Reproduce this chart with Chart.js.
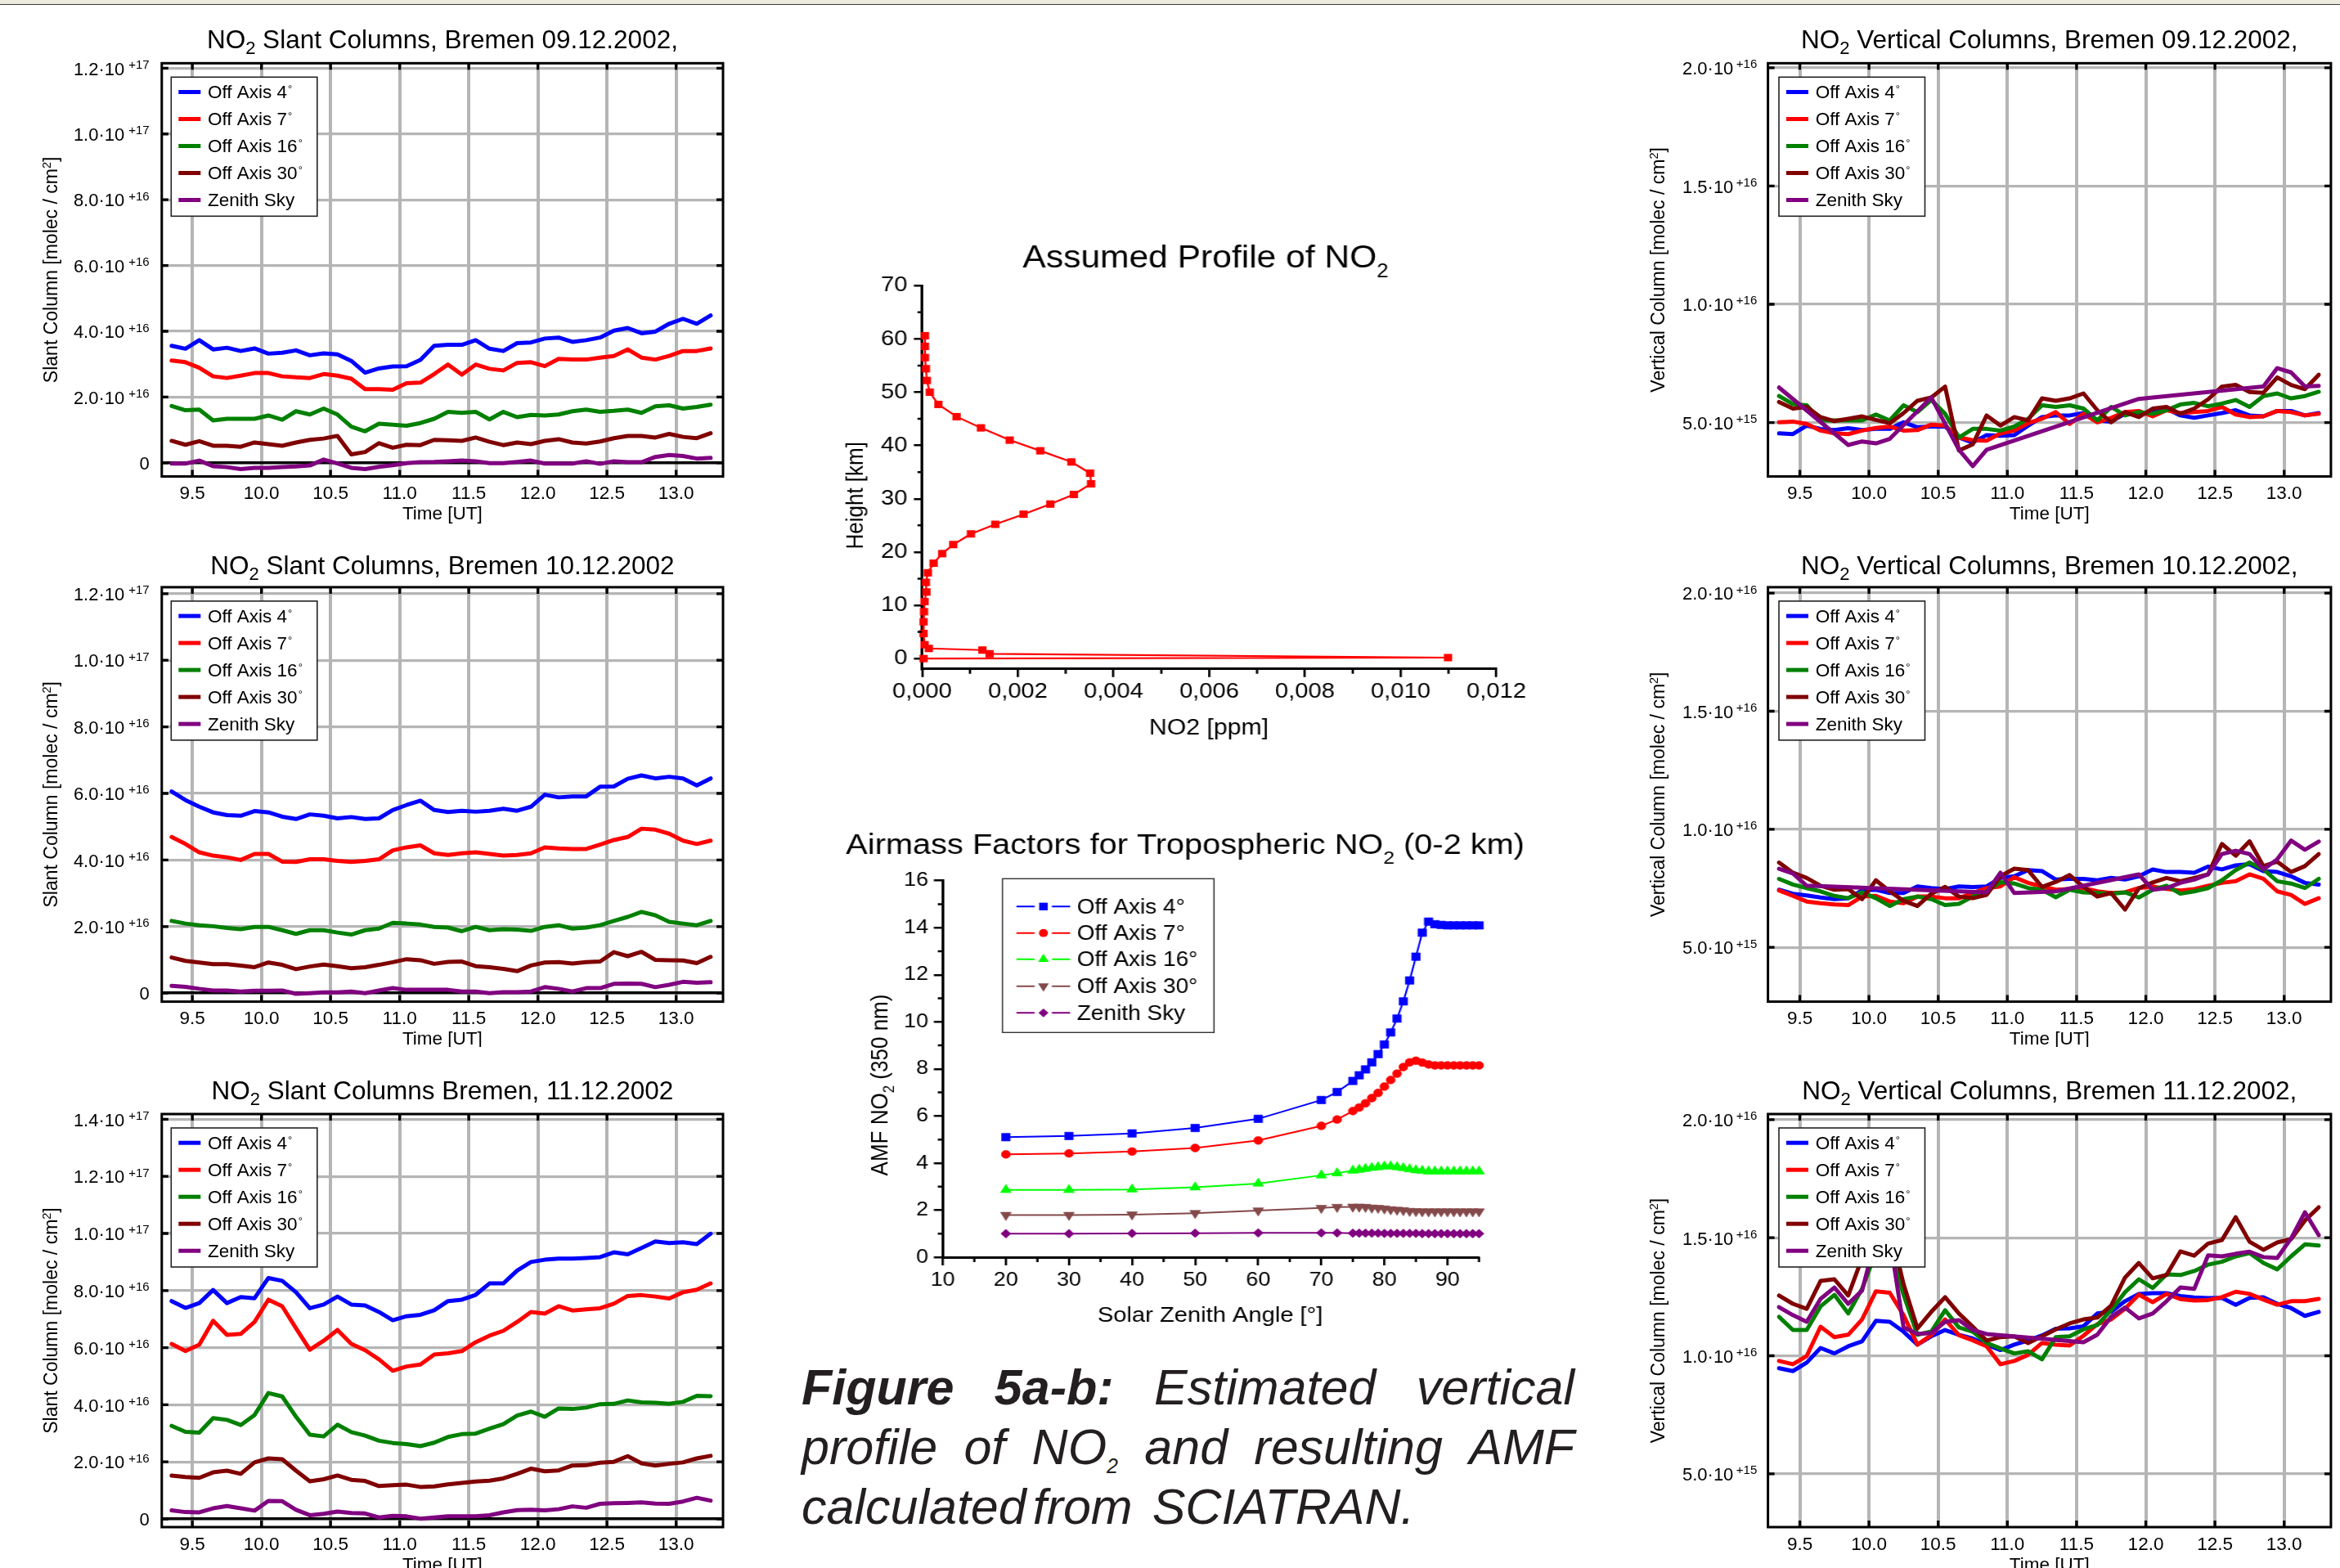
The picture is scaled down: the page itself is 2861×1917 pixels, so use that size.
<!DOCTYPE html>
<html><head><meta charset="utf-8">
<script src="https://cdn.jsdelivr.net/npm/chart.js@4.4.1/dist/chart.umd.min.js"></script>
<style>
html,body{margin:0;padding:0;background:#fff;}
body{position:relative;width:2861px;height:1917px;overflow:hidden;}
.cv{position:absolute;display:block;}
#topbar{position:absolute;left:0;top:0;width:2861px;height:5px;background:#ecebe0;border-bottom:1.5px solid #3c3c3c;}
.wrapS{position:absolute;width:804px;height:660px;transform:scaleX(1.12);transform-origin:0 0;}
.wrapS canvas{position:absolute;left:0;top:0;}
#caption{position:absolute;left:980px;top:1660px;width:945px;font-family:"Liberation Sans",Arial,sans-serif;font-style:italic;font-size:61px;color:#231f20;}
#caption .ln{display:flex;align-items:baseline;height:73px;line-height:73px;white-space:nowrap;}
#caption .j{justify-content:space-between;}
#caption b{font-weight:bold;}
#caption .sub{font-size:25px;position:relative;top:11px;line-height:0;}
</style></head><body>
<div id="topbar"></div>
<canvas id="c1" class="cv" width="960" height="640" style="left:0px;top:0px"></canvas>
<canvas id="c2" class="cv" width="960" height="640" style="left:0px;top:640px"></canvas>
<canvas id="c3" class="cv" width="960" height="637" style="left:0px;top:1280px"></canvas>
<canvas id="c6" class="cv" width="901" height="640" style="left:1960px;top:0px"></canvas>
<canvas id="c7" class="cv" width="901" height="640" style="left:1960px;top:640px"></canvas>
<canvas id="c8" class="cv" width="901" height="637" style="left:1960px;top:1280px"></canvas>
<div class="wrapS" style="left:1000px;top:270px"><canvas id="cP" width="804" height="660"></canvas></div>
<div class="wrapS" style="left:1000px;top:990px"><canvas id="cA" width="804" height="660"></canvas></div>
<div id="caption">
  <div class="ln j"><b>Figure</b><b>5a-b:</b><span>Estimated</span><span>vertical</span></div>
  <div class="ln j"><span>profile</span><span>of</span><span>NO<span class="sub">2</span></span><span>and</span><span>resulting</span><span>AMF</span></div>
  <div class="ln"><span>calculated</span><span style="margin-left:8px">from</span><span style="margin-left:24px">SCIATRAN.</span></div>
</div>
<script>
// ---------------- DATA ----------------
const seriesNames = ['Off Axis 4°','Off Axis 7°','Off Axis 16°','Off Axis 30°','Zenith Sky'];
const times = [9.35,9.45,9.55,9.65,9.75,9.85,9.95,10.05,10.15,10.25,10.35,10.45,10.55,10.65,10.75,10.85,10.95,11.05,11.15,11.25,11.35,11.45,11.55,11.65,11.75,11.85,11.95,12.05,12.15,12.25,12.35,12.45,12.55,12.65,12.75,12.85,12.95,13.05,13.15,13.25];
const xTickVals = [9.5,10,10.5,11,11.5,12,12.5,13];
const xTickLabels = ['9.5','10.0','10.5','11.0','11.5','12.0','12.5','13.0'];

// Slant columns, units of 1e16 molec/cm2
const slantTicksA = [0,2,4,6,8,10,12];
const slantMantA = ['0','2.0·10','4.0·10','6.0·10','8.0·10','1.0·10','1.2·10'];
const slantExpA = ['','+16','+16','+16','+16','+17','+17'];
const slantTicksB = [0,2,4,6,8,10,12,14];
const slantMantB = ['0','2.0·10','4.0·10','6.0·10','8.0·10','1.0·10','1.2·10','1.4·10'];
const slantExpB = ['','+16','+16','+16','+16','+17','+17','+17'];

const blue1 = [3.56,3.47,3.73,3.45,3.50,3.40,3.48,3.32,3.35,3.42,3.27,3.33,3.30,3.10,2.74,2.87,2.93,2.94,3.13,3.56,3.59,3.59,3.73,3.47,3.40,3.64,3.66,3.78,3.81,3.68,3.73,3.81,4.02,4.10,3.94,3.99,4.23,4.38,4.23,4.48];
const red1 = [3.11,3.06,2.89,2.63,2.58,2.65,2.73,2.73,2.63,2.60,2.58,2.70,2.65,2.56,2.24,2.24,2.22,2.42,2.44,2.70,2.99,2.68,2.99,2.86,2.81,3.04,3.06,2.94,3.16,3.14,3.14,3.20,3.25,3.45,3.20,3.14,3.25,3.40,3.40,3.48];
const green1 = [1.73,1.60,1.62,1.29,1.34,1.34,1.34,1.44,1.31,1.57,1.47,1.65,1.47,1.10,0.96,1.19,1.16,1.13,1.21,1.34,1.55,1.52,1.55,1.32,1.55,1.39,1.46,1.44,1.47,1.57,1.62,1.55,1.58,1.62,1.52,1.72,1.75,1.65,1.70,1.77];
const dred1 = [0.67,0.55,0.66,0.52,0.52,0.49,0.62,0.57,0.52,0.62,0.70,0.74,0.82,0.26,0.33,0.60,0.46,0.55,0.54,0.70,0.69,0.67,0.77,0.64,0.54,0.62,0.57,0.67,0.72,0.62,0.59,0.65,0.75,0.82,0.82,0.77,0.88,0.79,0.75,0.90];
const purp1 = [-0.02,-0.02,0.07,-0.10,-0.13,-0.19,-0.15,-0.15,-0.13,-0.11,-0.08,0.10,-0.02,-0.15,-0.19,-0.12,-0.07,-0.01,0.02,0.03,0.05,0.07,0.05,-0.01,-0.01,0.03,0.07,-0.02,-0.02,-0.02,0.05,-0.03,0.05,0.02,0.02,0.18,0.24,0.21,0.13,0.15];

const blue2 = [6.06,5.80,5.60,5.43,5.35,5.33,5.47,5.43,5.30,5.23,5.37,5.33,5.25,5.29,5.23,5.25,5.50,5.65,5.78,5.50,5.44,5.48,5.45,5.48,5.54,5.48,5.60,5.96,5.88,5.91,5.91,6.20,6.21,6.44,6.54,6.45,6.50,6.45,6.24,6.45];
const red2 = [4.69,4.48,4.23,4.13,4.08,4.00,4.18,4.18,3.95,3.94,4.02,4.02,3.97,3.94,3.97,4.02,4.29,4.38,4.44,4.20,4.15,4.20,4.23,4.18,4.13,4.15,4.20,4.38,4.35,4.33,4.33,4.46,4.60,4.69,4.94,4.91,4.79,4.58,4.48,4.58];
const green2 = [2.17,2.09,2.04,2.01,1.96,1.92,1.99,1.99,1.89,1.78,1.89,1.89,1.82,1.76,1.89,1.94,2.11,2.09,2.06,1.99,1.97,1.86,1.99,1.89,1.92,1.91,1.87,1.99,2.04,1.94,1.97,2.04,2.17,2.29,2.44,2.34,2.14,2.09,2.04,2.17];
const dred2 = [1.07,0.97,0.92,0.87,0.87,0.83,0.78,0.92,0.85,0.72,0.80,0.86,0.81,0.75,0.78,0.85,0.93,1.02,0.99,0.88,0.94,0.95,0.81,0.78,0.73,0.66,0.83,0.92,0.93,0.89,0.93,0.95,1.23,1.11,1.24,1.00,0.99,0.98,0.90,1.09];
const purp2 = [0.22,0.19,0.13,0.08,0.08,0.05,0.07,0.07,0.08,-0.02,0.00,0.02,0.02,0.05,0.00,0.08,0.15,0.10,0.10,0.10,0.10,0.05,0.05,0.00,0.03,0.03,0.05,0.18,0.13,0.05,0.15,0.15,0.28,0.29,0.28,0.18,0.25,0.34,0.31,0.33];

const blue3 = [7.63,7.39,7.56,8.02,7.56,7.77,7.73,8.44,8.34,7.94,7.38,7.51,7.79,7.51,7.48,7.25,6.96,7.10,7.15,7.31,7.63,7.68,7.85,8.25,8.25,8.70,9.00,9.08,9.12,9.12,9.14,9.17,9.34,9.27,9.49,9.72,9.66,9.69,9.63,9.99];
const red3 = [6.13,5.88,6.10,6.94,6.45,6.48,6.90,7.68,7.45,6.68,5.93,6.24,6.62,6.13,5.91,5.59,5.19,5.34,5.41,5.76,5.80,5.88,6.19,6.42,6.59,6.90,7.25,7.19,7.45,7.30,7.34,7.38,7.54,7.81,7.84,7.79,7.72,7.94,8.03,8.25];
const green3 = [3.26,3.05,3.02,3.53,3.47,3.29,3.64,4.41,4.29,3.58,2.95,2.89,3.30,3.04,2.92,2.74,2.66,2.62,2.55,2.67,2.87,2.97,2.99,3.16,3.32,3.62,3.76,3.58,3.87,3.85,3.90,4.02,4.03,4.15,4.08,4.07,4.03,4.10,4.31,4.30];
const dred3 = [1.52,1.47,1.44,1.63,1.69,1.58,1.98,2.12,2.09,1.69,1.32,1.39,1.52,1.37,1.33,1.15,1.18,1.20,1.12,1.14,1.21,1.26,1.31,1.34,1.42,1.58,1.76,1.67,1.70,1.87,1.88,1.97,2.00,2.20,1.95,1.87,1.93,1.98,2.12,2.21];
const purp3 = [0.30,0.24,0.23,0.37,0.45,0.37,0.29,0.63,0.62,0.32,0.13,0.18,0.26,0.21,0.19,0.05,0.11,0.09,0.01,0.05,0.09,0.09,0.09,0.13,0.23,0.31,0.32,0.30,0.34,0.44,0.39,0.53,0.55,0.56,0.58,0.54,0.53,0.61,0.74,0.64];

// Vertical columns, units of 1e15 molec/cm2
const vertTicks = [5,10,15,20];
const vertMant = ['5.0·10','1.0·10','1.5·10','2.0·10'];
const vertExp = ['+15','+16','+16','+16'];

const blue6 = [4.54,4.51,4.87,4.73,4.68,4.76,4.68,4.73,4.73,5.01,4.80,4.83,4.83,4.37,4.15,4.47,4.44,4.47,4.87,5.23,5.30,5.30,5.40,5.09,5.04,5.37,5.37,5.44,5.59,5.30,5.20,5.30,5.40,5.52,5.30,5.26,5.49,5.49,5.30,5.40];
const red6 = [5.01,5.04,4.94,4.66,4.54,4.51,4.66,4.77,4.83,4.66,4.68,4.91,4.87,4.37,4.25,4.23,4.54,4.66,4.97,5.16,5.44,4.94,5.37,5.01,5.20,5.44,5.49,5.26,5.52,5.40,5.44,5.49,5.66,5.34,5.23,5.26,5.49,5.44,5.30,5.37];
const green6 = [6.12,5.78,5.73,5.09,5.09,5.09,5.09,5.34,5.09,5.73,5.44,5.95,5.37,4.37,4.73,4.73,4.66,4.83,5.16,5.73,5.66,5.73,5.59,5.09,5.66,5.30,5.44,5.37,5.52,5.76,5.83,5.69,5.80,5.95,5.66,6.12,6.23,6.02,6.12,6.30];
const dred6 = [5.87,5.59,5.66,5.23,5.06,5.16,5.26,5.11,4.97,5.40,5.92,6.06,6.52,3.82,4.08,5.30,4.87,5.23,5.09,6.02,5.92,6.02,6.23,5.52,5.01,5.44,5.23,5.59,5.66,5.37,5.59,5.98,6.52,6.59,6.29,6.26,6.91,6.59,6.41,7.02];
const purp6 = [6.48,null,null,null,null,4.05,4.20,4.12,4.31,null,null,6.06,null,3.85,3.16,3.85,null,null,null,null,null,null,null,null,null,null,6.00,6.06,null,null,null,null,null,null,null,6.52,7.30,7.12,6.52,6.55];

const blue7 = [7.44,7.27,7.20,7.11,7.04,7.08,7.41,7.44,7.30,7.30,7.58,7.51,7.47,7.58,7.55,7.58,7.94,8.01,8.27,8.23,7.87,7.90,7.90,7.84,7.94,7.87,8.01,8.30,8.19,8.19,8.16,8.42,8.30,8.47,8.52,8.23,8.19,8.01,7.73,7.66];
const red7 = [7.41,7.18,6.94,6.87,6.82,6.79,7.15,7.18,6.94,6.87,7.15,7.15,7.08,7.08,7.30,7.51,7.58,7.97,7.73,7.58,7.44,7.47,7.51,7.37,7.30,7.33,7.51,7.58,7.47,7.41,7.47,7.61,7.73,7.80,8.09,7.90,7.37,7.22,6.84,7.08];
const green7 = [7.90,7.66,7.51,7.37,7.18,7.08,7.33,7.08,6.75,7.04,7.15,7.04,6.79,6.84,7.15,7.37,7.76,7.70,7.51,7.44,7.12,7.44,7.33,7.30,7.27,7.33,7.11,7.44,7.61,7.27,7.37,7.51,7.84,8.27,8.59,8.30,7.80,7.70,7.51,7.90];
const dred7 = [8.59,8.16,7.94,7.61,7.44,7.47,7.04,7.84,7.37,6.97,6.75,7.27,7.56,7.15,7.08,7.22,8.01,8.33,8.27,7.56,7.77,8.06,7.56,7.15,7.30,6.60,7.50,7.75,7.94,7.80,7.94,8.09,9.38,8.88,9.49,8.44,8.63,8.19,8.44,8.95];
const purp7 = [8.33,8.13,7.61,null,null,null,null,null,null,null,null,null,null,null,null,7.33,8.16,7.30,null,null,7.37,null,null,null,null,null,8.09,7.44,7.51,7.73,7.87,8.09,8.95,9.09,8.95,8.30,8.73,9.52,9.13,9.48];

const blue8 = [9.47,9.35,9.71,10.33,10.10,10.40,10.61,11.48,11.44,11.02,10.47,10.82,11.09,10.89,10.73,10.47,10.24,10.47,10.65,10.86,11.14,11.16,11.25,11.79,11.86,12.31,12.62,12.65,12.65,12.53,12.47,12.44,12.45,12.16,12.45,12.48,12.20,12.02,11.69,11.86];
const red8 = [9.78,9.64,9.99,11.23,10.79,10.89,11.54,12.73,12.67,11.72,10.47,10.87,11.54,10.87,10.65,10.40,9.64,9.78,10.04,10.54,10.47,10.43,10.85,11.34,11.54,11.99,12.59,12.27,12.62,12.40,12.34,12.36,12.48,12.71,12.62,12.38,12.16,12.31,12.31,12.41];
const green8 = [11.65,11.09,11.09,12.09,12.58,11.79,12.83,14.40,14.60,12.58,10.89,11.02,11.93,11.20,11.02,10.54,10.31,10.10,10.19,9.85,10.79,10.82,11.12,11.30,11.93,12.69,13.24,12.87,13.45,13.42,13.59,13.86,13.98,14.21,14.35,13.93,13.66,14.21,14.72,14.67];
const dred8 = [12.55,12.20,11.99,13.17,13.24,12.55,14.14,15.00,15.50,13.03,11.16,11.86,12.48,11.79,11.23,10.64,10.79,10.82,10.54,10.82,11.12,11.37,11.54,11.62,12.13,13.31,13.93,13.28,13.42,14.42,14.24,14.75,14.90,15.87,14.83,14.49,14.80,14.94,15.73,16.29];
const purp8 = [12.06,11.72,11.44,12.41,12.89,12.20,12.76,15.00,15.00,11.20,10.93,10.96,11.44,11.51,11.09,10.92,null,null,null,null,null,null,10.57,10.89,11.65,12.04,11.58,11.79,12.31,12.89,12.83,14.25,14.21,14.32,14.41,14.18,14.14,14.97,16.08,15.11];

// Assumed profile of NO2
const profX = [0.00006,0.00006,0.00006,0.00008,0.0001,0.00016,0.00034,0.00072,0.00123,0.00183,0.00247,0.00312,0.00351,0.00353,0.00317,0.00268,0.00212,0.00153,0.00102,0.00065,0.00042,0.00024,0.00012,0.00008,0.00009,0.00005,0.00004,0.00003,0.00003,0.00005,0.00014,0.00126,0.00141,0.01099,0.00003];
const profH = [60.6,58.6,56.5,54.4,52.2,50.0,47.7,45.4,43.3,41.0,39.0,36.9,34.8,32.8,30.8,29.0,27.1,25.2,23.4,21.4,19.7,17.9,16.1,14.3,12.5,10.7,8.8,6.9,4.7,2.6,1.9,1.6,0.9,0.18,0.0];
const profXTicks = [0,0.002,0.004,0.006,0.008,0.010,0.012];
const profYTicks = [0,10,20,30,40,50,60,70];
const profMinorX = [0.001,0.003,0.005,0.007,0.009,0.011];
const profMinorY = [5,15,25,35,45,55,65];

// Airmass factors
const amfNames = ['Off Axis 4°','Off Axis 7°','Off Axis 16°','Off Axis 30°','Zenith Sky'];
const amfX = [20,30,40,50,60,70,72.5,75,76,77,78,79,80,81,82,83,84,85,86,87,88,89,90,91,92,93,94,95];
const amf4 = [5.10,5.15,5.26,5.49,5.88,6.68,7.02,7.49,7.73,7.98,8.28,8.63,9.04,9.55,10.14,10.87,11.76,12.77,13.79,14.26,14.15,14.12,14.10,14.10,14.10,14.10,14.10,14.10];
const amf7 = [4.37,4.41,4.49,4.64,4.96,5.58,5.85,6.21,6.36,6.54,6.76,6.98,7.25,7.53,7.80,8.08,8.28,8.35,8.27,8.19,8.15,8.15,8.15,8.15,8.15,8.15,8.15,8.15];
const amf16 = [2.86,2.86,2.88,2.97,3.13,3.48,3.57,3.68,3.72,3.76,3.80,3.83,3.86,3.86,3.83,3.79,3.74,3.70,3.67,3.65,3.65,3.65,3.65,3.65,3.65,3.65,3.65,3.65];
const amf30 = [1.79,1.79,1.81,1.87,1.98,2.09,2.13,2.14,2.14,2.13,2.10,2.09,2.06,2.03,2.01,1.99,1.96,1.95,1.94,1.94,1.94,1.94,1.94,1.94,1.94,1.94,1.94,1.94];
const amfZ = [1.00,1.00,1.01,1.02,1.03,1.03,1.03,1.02,1.02,1.02,1.02,1.02,1.01,1.01,1.01,1.01,1.01,1.01,1.00,1.00,1.00,1.00,1.00,1.00,1.00,1.00,1.00,1.00];
const amfXTicks = [10,20,30,40,50,60,70,80,90];
const amfYTicks = [0,2,4,6,8,10,12,14,16];
const amfMinorX = [15,25,35,45,55,65,75,85,95];
const amfMinorY = [1,3,5,7,9,11,13,15];

// ---------------- STYLE ----------------
const FONT = '"Liberation Sans", Arial, Helvetica, sans-serif';
const tsColors = ['#0000ff','#ff0000','#008000','#800000','#800080'];
const amfColors = ['#0000ff','#ff0000','#00ff00','#84494a','#800080'];
const amfStyles = ['rect','circle','triangle','triangle','rectRot'];
const amfRot = [0,0,0,180,0];
const amfRad = [6.6,4.9,6.8,6.8,5.4];
Chart.defaults.font.family = FONT;
Chart.defaults.color = '#000';

function fontStr(p){ return [p.st||'normal', p.w||'normal', p.s+'px', FONT].join(' '); }
function rich(ctx, x, y, parts, align){
  let tot = 0;
  for (const p of parts){ ctx.font = fontStr(p); p._w = ctx.measureText(p.t).width + (p.dx||0); tot += p._w; }
  let cx = align==='center' ? x - tot/2 : (align==='right' ? x - tot : x);
  ctx.textAlign = 'left'; ctx.textBaseline = 'alphabetic';
  for (const p of parts){ ctx.font = fontStr(p); ctx.fillText(p.t, cx + (p.dx||0), y + (p.dy||0)); cx += p._w; }
}
function richRot(ctx, cx, cy, off, parts){
  ctx.save(); ctx.translate(cx, cy); ctx.rotate(-Math.PI/2); rich(ctx, 0, off, parts, 'center'); ctx.restore();
}
function marker(ctx, style, rot, r, x, y){
  if (Chart.helpers && Chart.helpers.drawPoint){
    Chart.helpers.drawPoint(ctx, {pointStyle: style, rotation: rot, radius: r, borderWidth: 0}, x, y);
  }
}

function tsPlugin(cfg){
  return { id: 'ts_' + cfg.id, afterDatasetsDraw(chart){
    const ctx = chart.ctx, a = chart.chartArea, xs = chart.scales.x, ys = chart.scales.y;
    ctx.save();
    // legend box
    const lx = a.left + cfg.legDx, ly = a.top + 17, lw = 178.5, lh = 170;
    ctx.fillStyle = '#fff'; ctx.fillRect(lx, ly, lw, lh);
    ctx.strokeStyle = '#222'; ctx.lineWidth = 1.6; ctx.strokeRect(lx, ly, lw, lh);
    seriesNames.forEach((nm, k) => {
      const by = ly + 25.7 + 33 * k;
      ctx.strokeStyle = tsColors[k]; ctx.lineWidth = 5; ctx.lineCap = 'butt';
      ctx.beginPath(); ctx.moveTo(lx + 9, by - 7.5); ctx.lineTo(lx + 36, by - 7.5); ctx.stroke();
      ctx.fillStyle = '#000';
      const deg = nm.endsWith('°');
      const parts = deg ? [{t: nm.slice(0, -1), s: 22.5}, {t: '°', s: 13, dy: -7, dx: 1}] : [{t: nm, s: 22.5}];
      rich(ctx, lx + 44.7, by, parts, 'left');
    });
    // frame + inner ticks
    ctx.strokeStyle = '#000'; ctx.lineWidth = 3;
    ctx.strokeRect(a.left, a.top, a.right - a.left, a.bottom - a.top);
    ctx.lineWidth = 3.3; ctx.lineCap = 'butt';
    ctx.beginPath();
    xTickVals.forEach(v => { const p = xs.getPixelForValue(v);
      ctx.moveTo(p, a.bottom); ctx.lineTo(p, a.bottom - 8); ctx.moveTo(p, a.top); ctx.lineTo(p, a.top + 8); });
    cfg.yTicks.forEach(v => { const p = ys.getPixelForValue(v);
      ctx.moveTo(a.left, p); ctx.lineTo(a.left + 8, p); ctx.moveTo(a.right, p); ctx.lineTo(a.right - 8, p); });
    ctx.stroke();
    ctx.fillStyle = '#000';
    // x tick labels
    xTickVals.forEach((v, i) => rich(ctx, xs.getPixelForValue(v), a.bottom + 27.5, [{t: xTickLabels[i], s: 22.5}], 'center'));
    // y tick labels with exponent
    cfg.yTicks.forEach((v, i) => {
      const p = ys.getPixelForValue(v), xr = a.left - cfg.expPad;
      if (cfg.yExp[i]) {
        ctx.font = fontStr({s: 15}); const ew = ctx.measureText(cfg.yExp[i]).width;
        rich(ctx, xr, p + 0.5, [{t: cfg.yExp[i], s: 15}], 'right');
        rich(ctx, xr - ew - cfg.gap, p + 8.3, [{t: cfg.yMant[i], s: 22}], 'right');
      } else {
        rich(ctx, xr, p + 8.3, [{t: cfg.yMant[i], s: 22}], 'right');
      }
    });
    // titles
    rich(ctx, (a.left + a.right) / 2, cfg.titleY, [{t: 'NO', s: 31.5}, {t: '2', s: 22, dy: 7}, {t: cfg.title, s: 31.5}], 'center');
    rich(ctx, (a.left + a.right) / 2, a.bottom + 52.5, [{t: 'Time [UT]', s: 22.5}], 'center');
    richRot(ctx, cfg.ytX, (a.top + a.bottom) / 2, 5.8, [{t: cfg.ytitle + ' [molec / cm', s: 23}, {t: '2', s: 14.5, dy: -8}, {t: ']', s: 23}]);
    ctx.restore();
  }};
}

function makeTs(cfg){
  const el = document.getElementById(cfg.id);
  const W = el.width, H = el.height;
  const datasets = cfg.series.map((vals, i) => ({
    label: seriesNames[i],
    data: times.map((t, j) => ({x: t, y: vals[j]})),
    borderColor: tsColors[i], backgroundColor: tsColors[i],
    borderWidth: 5, pointRadius: 0, pointHoverRadius: 0, tension: 0, spanGaps: true,
    borderJoinStyle: 'round', borderCapStyle: 'round', order: 4 - i, fill: false
  }));
  new Chart(el, {
    type: 'line',
    data: {datasets},
    options: {
      responsive: false, animation: false, devicePixelRatio: 1, events: [],
      layout: {padding: {left: 0, top: cfg.T, right: W - cfg.R, bottom: 0}},
      plugins: {legend: {display: false}, title: {display: false}, tooltip: {enabled: false}},
      scales: {
        x: {type: 'linear', min: cfg.xmin, max: cfg.xmax,
          afterBuildTicks: s => { s.ticks = xTickVals.map(v => ({value: v})); },
          afterFit: s => { s.height = H - cfg.B; },
          ticks: {display: false}, border: {display: false},
          grid: {color: '#b5b5b5', lineWidth: 4, drawTicks: false}},
        y: {type: 'linear', min: cfg.ymin, max: cfg.ymax,
          afterBuildTicks: s => { s.ticks = cfg.yTicks.map(v => ({value: v})); },
          afterFit: s => { s.width = cfg.L; },
          ticks: {display: false}, border: {display: false},
          grid: {color: c => (c.tick && c.tick.value === 0) ? '#000' : '#b5b5b5',
                 lineWidth: c => (c.tick && c.tick.value === 0) ? 3.6 : 3.3, drawTicks: false}}
      }
    },
    plugins: [tsPlugin(cfg)]
  });
}

const slantTitles = [' Slant Columns, Bremen 09.12.2002,', ' Slant Columns, Bremen 10.12.2002', ' Slant Columns Bremen, 11.12.2002'];
const vertTitles = [' Vertical Columns, Bremen 09.12.2002,', ' Vertical Columns, Bremen 10.12.2002,', ' Vertical Columns, Bremen 11.12.2002,'];

const slantBase = {L: 197.8, R: 884, xmin: 9.2787, xmax: 13.3397, expPad: 15.1, gap: 5, ytX: 64, legDx: 11.5, ytitle: 'Slant Column'};
const vertBase = {L: 201.6, R: 889.9, xmin: 9.270, xmax: 13.338, expPad: 13.3, gap: 3.5, ytX: 69, legDx: 13.4, ytitle: 'Vertical Column',
  yTicks: vertTicks, yMant: vertMant, yExp: vertExp};

makeTs(Object.assign({}, slantBase, {id: 'c1', T: 77.3, B: 582.5, ymin: -0.413, ymax: 12.149, titleY: 59.3, title: slantTitles[0],
  yTicks: slantTicksA, yMant: slantMantA, yExp: slantExpA, series: [blue1, red1, green1, dred1, purp1]}));
makeTs(Object.assign({}, slantBase, {id: 'c2', T: 77.9, B: 584.6, ymin: -0.256, ymax: 12.194, titleY: 62, title: slantTitles[1],
  yTicks: slantTicksA, yMant: slantMantA, yExp: slantExpA, series: [blue2, red2, green2, dred2, purp2]}));
makeTs(Object.assign({}, slantBase, {id: 'c3', T: 82, B: 587, ymin: -0.287, ymax: 14.183, titleY: 64, title: slantTitles[2],
  yTicks: slantTicksB, yMant: slantMantB, yExp: slantExpB, series: [blue3, red3, green3, dred3, purp3]}));
makeTs(Object.assign({}, vertBase, {id: 'c6', T: 77.3, B: 582.5, ymin: 2.72, ymax: 20.19, titleY: 59.3, title: vertTitles[0],
  series: [blue6, red6, green6, dred6, purp6]}));
makeTs(Object.assign({}, vertBase, {id: 'c7', T: 77.9, B: 584.6, ymin: 2.70, ymax: 20.25, titleY: 62, title: vertTitles[1],
  series: [blue7, red7, green7, dred7, purp7]}));
makeTs(Object.assign({}, vertBase, {id: 'c8', T: 82, B: 587, ymin: 2.74, ymax: 20.24, titleY: 64, title: vertTitles[2],
  series: [blue8, red8, green8, dred8, purp8]}));

// ---------- middle charts (drawn in a horizontally stretched box) ----------
function minorTicks(ctx, a, scale, vals, len){
  ctx.beginPath();
  vals.forEach(v => { const p = scale.getPixelForValue(v);
    if (scale.isHorizontal()) { ctx.moveTo(p, a.bottom); ctx.lineTo(p, a.bottom + len); }
    else { ctx.moveTo(a.left, p); ctx.lineTo(a.left - len, p); } });
  ctx.stroke();
}
function axisOpts(min, max, ticksArr, fit, isX, fmt, fsize, pad, tlen){
  return {type: 'linear', min, max,
    afterBuildTicks: s => { s.ticks = ticksArr.map(v => ({value: v})); },
    afterFit: s => { if (isX) s.height = fit; else s.width = fit; },
    ticks: {autoSkip: false, maxRotation: 0, padding: pad, color: '#000', font: {size: fsize}, callback: fmt},
    grid: {drawOnChartArea: false, drawTicks: true, tickLength: tlen, tickWidth: 2.5, tickColor: '#000', color: '#000', lineWidth: 2.5},
    border: {display: true, color: '#000', width: 3}};
}

const profPlugin = {id: 'prof', afterDraw(chart){
  const ctx = chart.ctx, a = chart.chartArea;
  ctx.save(); ctx.strokeStyle = '#000'; ctx.lineWidth = 2.5;
  minorTicks(ctx, a, chart.scales.x, profMinorX, 6);
  minorTicks(ctx, a, chart.scales.y, profMinorY, 5);
  ctx.fillStyle = '#000';
  rich(ctx, 423.2, 56.5, [{t: 'Assumed Profile of NO', s: 38}, {t: '2', s: 23, dy: 12}], 'center');
  rich(ctx, 426.8, 628, [{t: 'NO2 [ppm]', s: 27}], 'center');
  richRot(ctx, 40.6, 335.8, 8, [{t: 'Height [km]', s: 26}]);
  ctx.restore();
}};
new Chart(document.getElementById('cP'), {
  type: 'line',
  data: {datasets: [{label: 'NO2', data: profX.map((x, i) => ({x: x, y: profH[i]})),
    borderColor: '#ff0000', backgroundColor: '#ff0000', borderWidth: 2.2, pointStyle: 'rect', pointRadius: 6.4,
    pointBorderWidth: 0, tension: 0, clip: false}]},
  options: {responsive: false, animation: false, devicePixelRatio: 1, events: [],
    layout: {padding: {left: 0, top: 79.2, right: 63.4, bottom: 0}},
    plugins: {legend: {display: false}, tooltip: {enabled: false}},
    scales: {
      x: axisOpts(0, 0.012, profXTicks, 112.2, true, v => v.toFixed(3).replace('.', ','), 26, 2, 10),
      y: axisOpts(-1.94, 70, profYTicks, 113.75, false, v => String(v), 26, 7, 9)
    }},
  plugins: [profPlugin]
});

const amfSeries = [amf4, amf7, amf16, amf30, amfZ];
const amfPlugin = {id: 'amf', afterDraw(chart){
  const ctx = chart.ctx, a = chart.chartArea;
  ctx.save(); ctx.strokeStyle = '#000'; ctx.lineWidth = 2.5;
  minorTicks(ctx, a, chart.scales.x, amfMinorX, 6);
  minorTicks(ctx, a, chart.scales.y, amfMinorY, 5.5);
  ctx.fillStyle = '#000';
  rich(ctx, 401.0, 54.3, [{t: 'Airmass Factors for Tropospheric NO', s: 35.5}, {t: '2', s: 22, dy: 12}, {t: ' (0-2 km)', s: 35.5}], 'center');
  rich(ctx, 428.2, 626, [{t: 'Solar Zenith Angle [°]', s: 26}], 'center');
  richRot(ctx, 68.3, 336.5, 8, [{t: 'AMF NO', s: 26}, {t: '2', s: 17, dy: 7}, {t: ' (350 nm)', s: 26}]);
  // legend
  const x0 = 201.5, y0 = 84.3, x1 = 432.4, y1 = 272.3;
  ctx.fillStyle = '#fff'; ctx.fillRect(x0, y0, x1 - x0, y1 - y0);
  ctx.strokeStyle = '#333'; ctx.lineWidth = 1.4; ctx.strokeRect(x0, y0, x1 - x0, y1 - y0);
  const rows = [118.3, 150.7, 182.7, 215.7, 248.3];
  amfNames.forEach((nm, k) => {
    const y = rows[k];
    ctx.strokeStyle = amfColors[k]; ctx.lineWidth = 2;
    ctx.beginPath(); ctx.moveTo(216.7, y); ctx.lineTo(236.6, y); ctx.moveTo(255.4, y); ctx.lineTo(275.3, y); ctx.stroke();
    ctx.fillStyle = amfColors[k]; ctx.strokeStyle = amfColors[k];
    marker(ctx, amfStyles[k], amfRot[k], amfRad[k], 246.2, y);
    ctx.fillStyle = '#000';
    rich(ctx, 282.8, y + 8.6, [{t: nm, s: 25}], 'left');
  });
  ctx.restore();
}};
new Chart(document.getElementById('cA'), {
  type: 'line',
  data: {datasets: amfSeries.map((vals, i) => ({
    label: amfNames[i], data: amfX.map((x, j) => ({x: x, y: vals[j]})),
    borderColor: amfColors[i], backgroundColor: amfColors[i], pointBackgroundColor: amfColors[i], pointBorderColor: amfColors[i],
    borderWidth: 2, pointStyle: amfStyles[i], pointRotation: amfRot[i], pointRadius: amfRad[i], pointBorderWidth: 0.6,
    tension: 0, clip: false, order: 4 - i}))},
  options: {responsive: false, animation: false, devicePixelRatio: 1, events: [],
    layout: {padding: {left: 0, top: 86.7, right: 82.3, bottom: 0}},
    plugins: {legend: {display: false}, tooltip: {enabled: false}},
    scales: {
      x: axisOpts(10, 95, amfXTicks, 113, true, v => String(v), 24, 4, 10),
      y: axisOpts(0, 16, amfYTicks, 136.34, false, v => String(v), 24, 6, 9.8)
    }},
  plugins: [amfPlugin]
});
</script>
</body></html>
